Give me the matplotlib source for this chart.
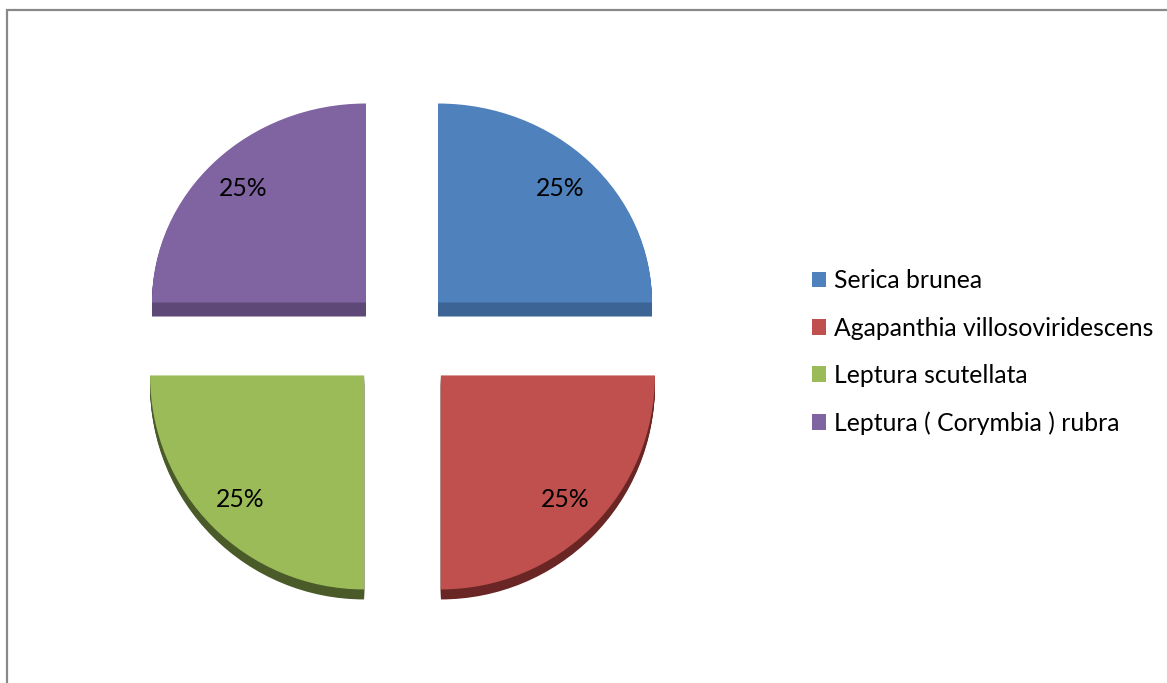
import matplotlib.pyplot as plt
from matplotlib.patches import Rectangle
from matplotlib.transforms import ScaledTranslation

species = [
    "Serica brunea",
    "Agapanthia villosoviridescens",
    "Leptura scutellata",
    "Leptura ( Corymbia ) rubra",
]
shares = [25, 25, 25, 25]
colors = ["#4f81bd", "#c0504d", "#9bbb59", "#8064a2"]
side_colors = ["#3c6596", "#6a2624", "#4a5a29", "#5e4877"]

W, H = 1167, 683
fig = plt.figure(figsize=(W / 100, H / 100), dpi=100)


def pie_layer(cx, cy, rx, ry, explode, depth, keep, pctdistance):
    """Draw the pie in its own axes (rx/ry px per unit) and show only `keep` slices."""
    ax = fig.add_axes([(cx - 1.25 * rx) / W, (H - cy - 1.25 * ry) / H,
                       2.5 * rx / W, 2.5 * ry / H])
    ex = [explode] * len(shares)
    # extrude downwards by stacking darker copies
    for d in range(depth, 0, -1):
        sides, _ = ax.pie(shares, explode=ex, startangle=90, counterclock=False,
                          colors=side_colors, wedgeprops=dict(linewidth=0))
        off = ScaledTranslation(0, -d / 100, fig.dpi_scale_trans)
        for i, w in enumerate(sides):
            w.set_transform(ax.transData + off)
            w.set_visible(i in keep)
    wedges, _, pct = ax.pie(
        shares, explode=ex, startangle=90, counterclock=False, colors=colors,
        autopct="%1.0f%%", pctdistance=pctdistance, wedgeprops=dict(linewidth=0),
        textprops=dict(fontsize=17.8, family="Lato", color="black"),
    )
    for i, (w, t) in enumerate(zip(wedges, pct)):
        w.set_visible(i in keep)
        t.set_visible(i in keep)
    ax.set_aspect("auto")
    ax.set_xlim(-1.25, 1.25)
    ax.set_ylim(-1.25, 1.25)
    return wedges


# back half is seen a little smaller than the front half (tilted 3-D pie)
back = pie_layer(402, 336, 214, 199, 0.238, 14, keep=(0, 3), pctdistance=0.81)
front = pie_layer(402.5, 337, 214, 214, 0.254, 10, keep=(1, 2), pctdistance=0.82)
handles = [back[0], front[1], front[2], back[3]]

fig.legend(
    handles, species, loc="center left", bbox_to_anchor=(812 / W, 1 - 352 / H),
    frameon=False, prop=dict(family="Lato", size=17.8),
    handlelength=0.58, handleheight=0.58, handletextpad=0.3, labelspacing=0.98,
    borderaxespad=0, borderpad=0,
)

# chart area outline
fig.patches.append(Rectangle((6.5 / W, -0.1), 1.2, (H - 10.5) / H + 0.1,
                             transform=fig.transFigure, fill=False,
                             edgecolor="#898989", linewidth=1.6))

fig.savefig("out.png", dpi=100, facecolor="white")
